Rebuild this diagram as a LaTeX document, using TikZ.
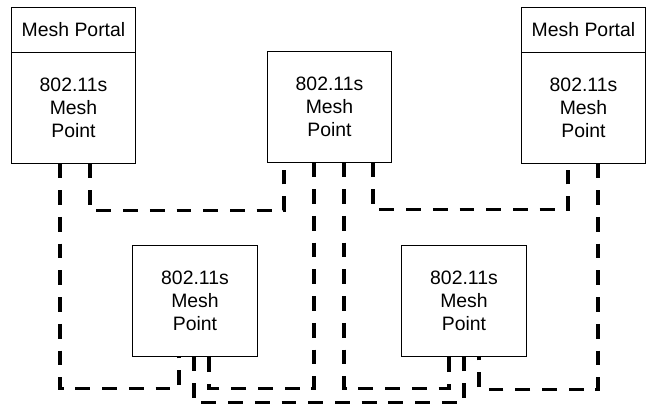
\documentclass[tikz,border=0pt]{standalone}
\usepackage{fontspec}
\setmainfont{Liberation Sans}
\usetikzlibrary{positioning,calc}

\begin{document}
\begin{tikzpicture}[
  x=0.025cm,y=-0.025cm,
  font=\fontsize{13.8}{16.4}\selectfont,
  box/.style={draw=black,line width=0.7pt,align=center,inner sep=0pt,
              minimum width=3.075cm,minimum height=2.75cm},
  portal/.style={box,minimum height=1.1cm},
  link/.style={draw=black,line width=2.3pt,dash pattern=on 10.5pt off 8.5pt},
]
\useasboundingbox (0,0) rectangle (647,405);

\node[portal] (portalL) at (73.5,30) {Mesh Portal};
\node[box,below=0pt of portalL] (mpL) {802.11s\\Mesh\\Point};
\node[portal] (portalR) at (583.5,30) {Mesh Portal};
\node[box,below=0pt of portalR] (mpR) {802.11s\\Mesh\\Point};
\node[box] (mpM) at (329.5,107) {802.11s\\Mesh\\Point};
\node[box,minimum width=3.1cm] (mpBL) at (195,301) {802.11s\\Mesh\\Point};
\node[box,minimum width=3.1cm] (mpBR) at (464,301) {802.11s\\Mesh\\Point};

% mesh links
\draw[link] ($(mpL.south)+(-13.5,0)$) -- ++(0,225) -| ($(mpBL.south)+(-16,0)$);
\draw[link] ($(mpL.south)+(16.5,0)$) -- ++(0,47) -| ($(mpM.south)+(-45.5,0)$);
\draw[link] ($(mpM.south)+(-15.5,0)$) -- ++(0,226) -| ($(mpBL.south)+(14,0)$);
\draw[link] ($(mpBL.south)+(-1,0)$) -- ++(0,46) -| (mpBR.south);
\draw[link] ($(mpM.south)+(14.5,0)$) -- ++(0,226) -| ($(mpBR.south)+(-15,0)$);
\draw[link] ($(mpM.south)+(43.5,0)$) -- ++(0,47) -| ($(mpR.south)+(-15.5,0)$);
\draw[link] ($(mpR.south)+(14.5,0)$) -- ++(0,226) -| ($(mpBR.south)+(15,0)$);
\end{tikzpicture}
\end{document}
